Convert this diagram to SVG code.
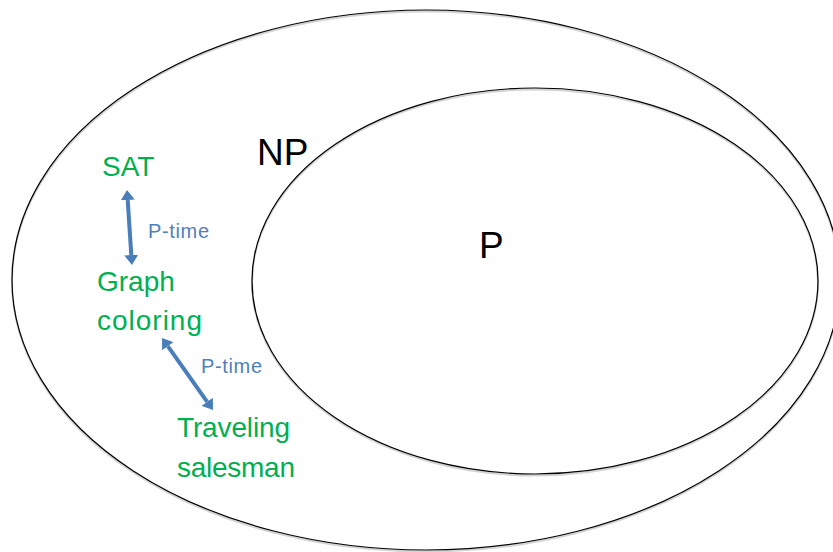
<svg xmlns="http://www.w3.org/2000/svg" width="833" height="552" viewBox="0 0 833 552">
  <defs>
    <style>
      .set { fill: none; stroke: #000; stroke-width: 1.2; }
      .shade { fill: none; stroke: #d4d4d4; stroke-width: 2; }
      .cls { font-family: "Liberation Sans", Arial, sans-serif; fill: #000; font-size: 37px; }
      .prob { font-family: "Liberation Sans", Arial, sans-serif; fill: #00B050; font-size: 28px; }
      .red { font-family: "Liberation Sans", Arial, sans-serif; fill: #4F81BD; font-size: 20px; }
      .link { stroke: #4A7EBB; stroke-width: 4; fill: none; marker-start: url(#head); marker-end: url(#head); }
    </style>
    <marker id="head" viewBox="0 -7 10 14" refX="0" refY="0" markerWidth="10" markerHeight="14" markerUnits="userSpaceOnUse" orient="auto-start-reverse">
      <path d="M0,-7 L10,0 L0,7 z" fill="#4A7EBB"/>
    </marker>
  </defs>

  <!-- NP region -->
  <g id="np">
    <ellipse class="shade" cx="426" cy="281.5" rx="414" ry="270"/>
    <ellipse class="set" cx="426" cy="280" rx="414" ry="270"/>
    <text class="cls" x="257" y="165">NP</text>
  </g>

  <!-- P region -->
  <g id="p">
    <ellipse class="shade" cx="535" cy="282.5" rx="283" ry="193"/>
    <ellipse class="set" cx="535" cy="281" rx="283" ry="193"/>
    <text class="cls" x="479" y="258">P</text>
  </g>

  <g id="sat">
    <text class="prob" x="102" y="176">SAT</text>
  </g>

  <g id="graph-coloring">
    <text class="prob" x="97" y="291">Graph</text>
    <text class="prob" x="97" y="330" textLength="105">coloring</text>
  </g>

  <g id="traveling-salesman">
    <text class="prob" x="177" y="437" textLength="113">Traveling</text>
    <text class="prob" x="177" y="477" textLength="118">salesman</text>
  </g>

  <!-- polynomial-time reductions -->
  <g id="connectors">
    <path class="link" d="M127.7,200 L131.3,255"/>
    <text class="red" x="148" y="238" textLength="61">P-time</text>
    <path class="link" d="M167.8,346.2 L207.2,401.8"/>
    <text class="red" x="201" y="373" textLength="61">P-time</text>
  </g>
</svg>
